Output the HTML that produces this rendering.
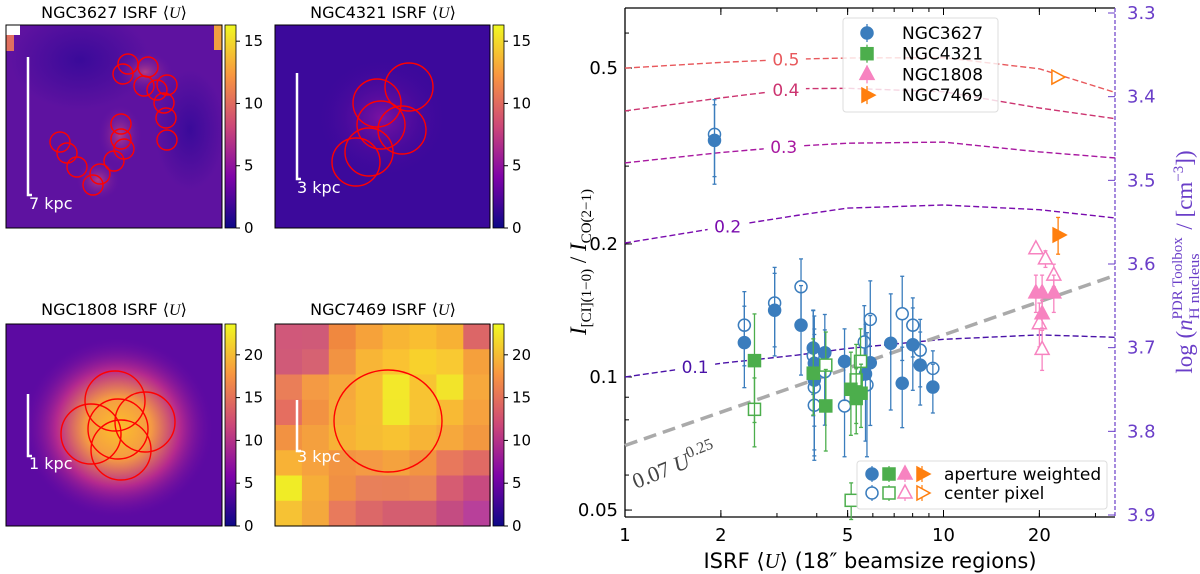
<!DOCTYPE html>
<html><head><meta charset="utf-8"><style>
html,body{margin:0;padding:0;background:#fff;}
svg{display:block;font-family:"DejaVu Sans","Liberation Sans",sans-serif;}
</style></head><body>
<svg id="fig" width="1200" height="574" viewBox="0 0 1200 574" xmlns="http://www.w3.org/2000/svg">
<defs>
<linearGradient id="plasma" x1="0" y1="1" x2="0" y2="0">
<stop offset="0" stop-color="#0d0887"/><stop offset="0.25" stop-color="#7e03a8"/><stop offset="0.5" stop-color="#cc4778"/><stop offset="0.75" stop-color="#f89540"/><stop offset="1" stop-color="#f0f921"/>
</linearGradient>
<radialGradient id="g1" cx="0.5" cy="0.5" r="0.5"><stop offset="0" stop-color="#b03c88"/><stop offset="1" stop-color="#6a14a2" stop-opacity="0"/></radialGradient>
<radialGradient id="gd" cx="0.5" cy="0.5" r="0.5"><stop offset="0" stop-color="#3a0a9a"/><stop offset="1" stop-color="#3a0a9a" stop-opacity="0"/></radialGradient>
<radialGradient id="g2" cx="0.5" cy="0.5" r="0.5"><stop offset="0" stop-color="#7c12a2"/><stop offset="1" stop-color="#40089c" stop-opacity="0"/></radialGradient>
<radialGradient id="g3" cx="0.5" cy="0.5" r="0.5"><stop offset="0" stop-color="#fcc02a"/><stop offset="0.35" stop-color="#f49a44"/><stop offset="0.65" stop-color="#b52a8e"/><stop offset="1" stop-color="#6a0aa5" stop-opacity="0"/></radialGradient>
<clipPath id="c1"><rect x="6" y="25" width="216" height="203"/></clipPath>
<clipPath id="c2"><rect x="275" y="25" width="215" height="203"/></clipPath>
<clipPath id="c3"><rect x="6" y="324" width="216" height="202"/></clipPath>
</defs>

<g>
<text x="114" y="18" font-size="16" text-anchor="middle">NGC3627 ISRF ⟨<tspan font-style="italic" font-family="Liberation Serif,serif">U</tspan>⟩</text>
<rect x="6" y="25" width="216" height="203" fill="#5e12a0"/>
<g clip-path="url(#c1)">
<ellipse cx="80" cy="60" rx="70" ry="50" fill="url(#gd)"/>
<ellipse cx="190" cy="130" rx="35" ry="60" fill="url(#gd)"/>
<ellipse cx="120" cy="135" rx="22" ry="30" fill="url(#g1)"/>
<ellipse cx="98" cy="180" rx="22" ry="20" fill="url(#g1)"/>
<ellipse cx="145" cy="72" rx="28" ry="20" fill="url(#g1)"/>
<rect x="214" y="25" width="8" height="25" fill="#f0a040"/>
<rect x="6" y="33" width="8" height="18" fill="#e07060"/>
<rect x="6" y="25" width="14" height="10" fill="#fff"/>
</g>
<rect x="6" y="25" width="216" height="203" fill="none" stroke="#000" stroke-width="1"/>
<g fill="none" stroke="#f00" stroke-width="1.4">
<circle cx="128" cy="64" r="10"/><circle cx="148" cy="67" r="10"/><circle cx="123" cy="74" r="10"/><circle cx="144" cy="86" r="10"/><circle cx="157" cy="90" r="10"/><circle cx="167" cy="85" r="10"/><circle cx="164" cy="103" r="10"/><circle cx="166" cy="118" r="10"/><circle cx="167" cy="140" r="10"/><circle cx="121" cy="124" r="10"/><circle cx="121" cy="139" r="10"/><circle cx="124" cy="149" r="10"/><circle cx="60" cy="142" r="10"/><circle cx="67" cy="153" r="10"/><circle cx="77" cy="167" r="10"/><circle cx="114" cy="161" r="10"/><circle cx="100" cy="174" r="10"/><circle cx="93" cy="185" r="10"/>
</g>
<path d="M28 57 V195 H32" stroke="#fff" stroke-width="2.5" fill="none"/>
<text x="29" y="209" fill="#fff" font-size="16">7 kpc</text>
</g>

<g>
<text x="383" y="18" font-size="16" text-anchor="middle">NGC4321 ISRF ⟨<tspan font-style="italic" font-family="Liberation Serif,serif">U</tspan>⟩</text>
<rect x="275" y="25" width="215" height="203" fill="#3c099b"/>
<g clip-path="url(#c2)"><ellipse cx="382" cy="118" rx="65" ry="60" fill="url(#g2)"/></g>
<rect x="275" y="25" width="215" height="203" fill="none" stroke="#000"/>
<g fill="none" stroke="#f00" stroke-width="1.4">
<circle cx="409" cy="87" r="24"/><circle cx="377" cy="103" r="24"/><circle cx="381" cy="125" r="24"/><circle cx="402" cy="130" r="24"/><circle cx="369" cy="152" r="24"/><circle cx="356" cy="162" r="24"/>
</g>
<path d="M297 73 V179 H301" stroke="#fff" stroke-width="2.5" fill="none"/>
<text x="297" y="193" fill="#fff" font-size="16">3 kpc</text>
</g>

<g>
<text x="114" y="315" font-size="16" text-anchor="middle">NGC1808 ISRF ⟨<tspan font-style="italic" font-family="Liberation Serif,serif">U</tspan>⟩</text>
<rect x="6" y="324" width="216" height="202" fill="#5c0aa2"/>
<g clip-path="url(#c3)"><ellipse cx="118" cy="428" rx="95" ry="90" fill="url(#g3)"/></g>
<rect x="6" y="324" width="216" height="202" fill="none" stroke="#000"/>
<g fill="none" stroke="#f00" stroke-width="1.4">
<circle cx="115" cy="401" r="30"/><circle cx="145" cy="422" r="30"/><circle cx="91" cy="434" r="30"/><circle cx="118" cy="429" r="30"/><circle cx="121" cy="450" r="30"/>
</g>
<path d="M28 394 V456 H32" stroke="#fff" stroke-width="2.5" fill="none"/>
<text x="29" y="469" fill="#fff" font-size="16">1 kpc</text>
</g>

<g>
<text x="383" y="315" font-size="16" text-anchor="middle">NGC7469 ISRF ⟨<tspan font-style="italic" font-family="Liberation Serif,serif">U</tspan>⟩</text>
<g id="p4cells"></g>
<rect x="275" y="324" width="215" height="202" fill="none" stroke="#000"/>
<ellipse cx="388" cy="421" rx="54" ry="51" fill="none" stroke="#f00" stroke-width="1.4"/>
<path d="M297 400 V451 H301" stroke="#fff" stroke-width="2.5" fill="none"/>
<text x="297" y="462" fill="#fff" font-size="16">3 kpc</text>
</g>

<g><rect x="225" y="25" width="11" height="203" fill="url(#plasma)" stroke="#000" stroke-width="0.8"/></g>
<g><rect x="493" y="25" width="11" height="203" fill="url(#plasma)" stroke="#000" stroke-width="0.8"/></g>
<g><rect x="225" y="324" width="11" height="202" fill="url(#plasma)" stroke="#000" stroke-width="0.8"/></g>
<g><rect x="493" y="324" width="11" height="202" fill="url(#plasma)" stroke="#000" stroke-width="0.8"/></g>
<g id="cbticks" font-size="15"></g>

<g id="chart"></g>
</svg>
<script>
// ---- chart data ----
const blueFilledU = [1.91,2.37,2.95,3.57,3.90,4.24,3.93,3.93,4.89,5.69,5.89,6.83,8.01,8.45,7.42,9.26];
const blueFilledV = [0.343,0.1196,0.1416,0.131,0.1163,0.1135,0.1074,0.0984,0.1085,0.1016,0.1077,0.1192,0.1183,0.1064,0.0968,0.0949];
const blueFilledE = [0.07,0.025,0.03,0.03,0.025,0.025,0.03,0.03,0.02,0.03,0.03,0.035,0.025,0.02,0.02,0.012];
const blueOpenU = [1.91,2.37,2.95,3.57,3.90,3.93,3.93,4.24,4.89,5.64,5.75,5.89,7.42,8.01,8.45,9.26];
const blueOpenV = [0.354,0.131,0.147,0.160,0.1117,0.0948,0.0863,0.1028,0.086,0.120,0.096,0.135,0.139,0.131,0.115,0.1046];
const blueOpenE = [0.07,0.025,0.03,0.025,0.03,0.03,0.02,0.025,0.02,0.025,0.03,0.03,0.03,0.02,0.02,0.01];
const greenFilledU = [2.55,3.90,4.27,5.12,5.32,5.51];
const greenFilledV = [0.1089,0.102,0.086,0.0938,0.0894,0.0919];
const greenFilledE = [0.03,0.02,0.018,0.02,0.015,0.015];
const greenOpenU = [2.55,4.27,5.49,5.32,5.13];
const greenOpenV = [0.0845,0.1064,0.1085,0.0985,0.0526];
const greenOpenE = [0.015,0.02,0.02,0.02,0.005];
const pinkFilledU = [19.5,20.4,22.2,20.4];
const pinkFilledV = [0.155,0.155,0.155,0.139];
const pinkFilledE = [0.015,0.015,0.015,0.01];
const pinkOpenU = [19.5,20.9,22.2,20.0,20.4];
const pinkOpenV = [0.195,0.185,0.170,0.132,0.1155];
const pinkOpenE = [0.005,0.008,0.01,0.015,0.012];
const orangeFilledU = [22.9];
const orangeFilledV = [0.2096];
const orangeFilledE = [0.02];
const orangeOpenU = [22.7];
const orangeOpenV = [0.477];
const orangeOpenE = [0.003];
const contourU = [1,2,3.45,5,10,20,34.7];
const contour05 = [0.500,0.515,0.524,0.527,0.528,0.498,0.440];
const contour04 = [0.400,0.428,0.449,0.450,0.442,0.406,0.384];
const contour03 = [0.305,0.322,0.333,0.338,0.340,0.323,0.313];
const contour02 = [0.201,0.218,0.232,0.241,0.245,0.239,0.229];
const contour01 = [0.100,0.1074,0.112,0.116,0.1217,0.1245,0.123];
const contourLabels = ["0.5","0.4","0.3","0.2","0.1"];
const xTicks = [1,2,5,10,20];
const yTicks = [0.05,0.1,0.2,0.5];
const rightTicks = [3.3,3.4,3.5,3.6,3.7,3.8,3.9];
const fitCoef = 0.07, fitExp = 0.25;

const L=625,R=1115,T=8,B=517;
const xS=u=>L+318.5*Math.log10(u);
const yS=v=>377-442*Math.log10(v/0.1);
const yR=d=>13+(d-3.3)*(515-13)/0.6;
const NS='http://www.w3.org/2000/svg';
const chart=document.getElementById('chart');
function mk(tag,attrs,parent){const e=document.createElementNS(NS,tag);for(const k in attrs)e.setAttribute(k,attrs[k]);(parent||chart).appendChild(e);return e;}

const cb=document.getElementById('cbticks');
[[225,25,228,16.3],[493,25,228,16.3],[225,324,526,23.6],[493,324,526,23.6]].forEach(([x,t,b,mx])=>{
  for(let v=0;v<=mx;v+=5){
    const y=b-(b-t)*v/mx;
    mk('line',{x1:x+11,x2:x+15,y1:y,y2:y,stroke:'#000'},cb);
    const tx=mk('text',{x:x+19,y:y+5},cb);
    
    
    tx.textContent=v;
  }
});
const p4=document.getElementById('p4cells');
const cellCols=[
 ['#d0587a','#cf5a78','#f0883f','#f6a23a','#f8b534','#f9be31','#f7b134','#dc6667'],
 ['#d05a78','#d66272','#f29342','#f8b536','#fac232','#f8d12c','#f9c932','#f5a03c'],
 ['#ea7e58','#f49a44','#f6a83c','#f8bc34','#f3e82a','#f8c432','#f2e42a','#f6a83c'],
 ['#e56e60','#f29242','#f7ac3a','#f7bc34','#f0e82a','#f7c434','#f8ba34','#f6a23e'],
 ['#f29242','#f4a03e','#f7b236','#f6bc34','#f8c232','#f7b436','#f6a83c','#f39840'],
 ['#f8b236','#f6a23e','#f29442','#f49a44','#f4a23e','#f29442','#e8785c','#e06a64'],
 ['#f0ec26','#f6ae38','#f09044','#e8805a','#e88058','#ea8456','#d65c72','#c84a80'],
 ['#f6c234','#f4a83c','#e87a5c','#dc6868','#d45e70','#d45e70','#c44c82','#b8409a']];
for(let r=0;r<8;r++)for(let c=0;c<8;c++){
  mk('rect',{x:275+c*26.9,y:324+r*25.25,width:27.5,height:25.8,fill:cellCols[r][c]},p4);
}

mk('line',{x1:L,y1:T,x2:L,y2:B,stroke:'#000','stroke-width':1.3});
mk('line',{x1:L,y1:B,x2:R,y2:B,stroke:'#000','stroke-width':1.3});
mk('line',{x1:L,y1:T,x2:R,y2:T,stroke:'#000','stroke-width':1.3});
mk('line',{x1:R,y1:T,x2:R,y2:B,stroke:'#6a3ec8','stroke-width':1.2,'stroke-dasharray':'4,2'});

for(let d=0;d<2;d++)for(let m=1;m<10;m++){const u=m*Math.pow(10,d);if(u>34.7)continue;const x=xS(u);
  mk('line',{x1:x,x2:x,y1:B,y2:B-(m==1?7:4),stroke:'#000'});mk('line',{x1:x,x2:x,y1:T,y2:T+(m==1?7:4),stroke:'#000'});}
xTicks.forEach(u=>{const x=xS(u);mk('line',{x1:x,x2:x,y1:B,y2:B-7,stroke:'#000'});mk('line',{x1:x,x2:x,y1:T,y2:T+7,stroke:'#000'});
  const t=mk('text',{x:x,y:541,'font-size':18,'text-anchor':'middle'});
  
  
  t.textContent=u;});
[0.05,0.06,0.07,0.08,0.09,0.1,0.2,0.3,0.4,0.5,0.6].forEach(v=>{const y=yS(v);mk('line',{x1:L,x2:L+4,y1:y,y2:y,stroke:'#000'});});
yTicks.forEach(v=>{const y=yS(v);mk('line',{x1:L,x2:L+7,y1:y,y2:y,stroke:'#000'});
  const t=mk('text',{x:618,y:y+6,'font-size':18,'text-anchor':'end'});
  
  
  t.textContent=v;});
rightTicks.forEach(d=>{const y=yR(d);mk('line',{x1:R,x2:R-7,y1:y,y2:y,stroke:'#6a3ec8'});
  const t=mk('text',{x:1127,y:y+6,'font-size':18,fill:'#6a3ec8'});
  
  
  t.textContent=d.toFixed(1);});

const cSets=[contour05,contour04,contour03,contour02,contour01];
const cCols=['#e8585c','#cc3470','#a818a0','#7a0cae','#4a12a8'];
const labU=[3.2,3.2,3.15,2.1,1.66];
cSets.forEach((vals,i)=>{
  let d='';contourU.forEach((u,j)=>{d+=(j?'L':'M')+xS(u).toFixed(1)+' '+yS(vals[j]).toFixed(1);});
  const p=mk('path',{d:d,fill:'none',stroke:cCols[i],'stroke-width':1.4,'stroke-dasharray':'6,3'});
  
  
  const lu=labU[i];let k=0;while(k<contourU.length-2&&contourU[k+1]<lu)k++;
  const f=(Math.log10(lu)-Math.log10(contourU[k]))/(Math.log10(contourU[k+1])-Math.log10(contourU[k]));
  const lv=Math.pow(10,Math.log10(cSets[i][k])+f*(Math.log10(cSets[i][k+1])-Math.log10(cSets[i][k])));
  const lx=xS(lu),ly=yS(lv);
  mk('rect',{x:lx-20,y:ly-10,width:40,height:20,fill:'#fff'});
  const t=mk('text',{x:lx,y:ly+6,'font-size':17,'text-anchor':'middle',fill:cCols[i]});
  
  
  t.textContent=contourLabels[i];
});

const fitL=mk('line',{x1:xS(1),y1:yS(fitCoef),x2:xS(34.7),y2:yS(fitCoef*Math.pow(34.7,fitExp)),stroke:'#aaa','stroke-width':3.5,'stroke-dasharray':'13,7'});


const fitT=mk('text',{x:0,y:0,'font-size':22,fill:'#444','font-family':'Liberation Serif,serif',transform:'translate(636,489) rotate(-22)'});


fitT.innerHTML='0.07 <tspan font-style="italic">U</tspan><tspan dy="-9" font-size="16">0.25</tspan>';

function marker(shape,x,y,col,filled,g){
  const fa=filled?col:'#fff',sw=1.5;
  if(shape=='o')return mk('circle',{cx:x,cy:y,r:6,fill:fa,stroke:col,'stroke-width':sw},g);
  if(shape=='s')return mk('rect',{x:x-6,y:y-6,width:12,height:12,fill:fa,stroke:col,'stroke-width':sw},g);
  if(shape=='^')return mk('polygon',{points:`${x},${y-8} ${x+7},${y+5} ${x-7},${y+5}`,fill:fa,stroke:col,'stroke-width':sw},g);
  if(shape=='>')return mk('polygon',{points:`${x+8},${y} ${x-5},${y-7} ${x-5},${y+7}`,fill:fa,stroke:col,'stroke-width':sw},g);
}
function series(name,U,V,E,shape,col,filled){
  const g=mk('g',{});
  
  
  U.forEach((u,i)=>{const x=xS(u),y=yS(V[i]),y1=yS(V[i]+E[i]),y2=yS(Math.max(V[i]-E[i],0.001));
    mk('line',{x1:x,x2:x,y1:y1,y2:y2,stroke:col,'stroke-width':1.3},g);
    mk('line',{x1:x-2,x2:x+2,y1:y1,y2:y1,stroke:col,'stroke-width':1.3},g);
    mk('line',{x1:x-2,x2:x+2,y1:y2,y2:y2,stroke:col,'stroke-width':1.3},g);
    const m=marker(shape,x,y,col,filled,g);
    
    
  });
}
const BL='#3b7dbd',GR='#4cae4c',PK='#f783c0',OR='#ff7f0e';
series('ngc3627-center',blueOpenU,blueOpenV,blueOpenE,'o',BL,false);
series('ngc3627-aperture',blueFilledU,blueFilledV,blueFilledE,'o',BL,true);
series('ngc4321-center',greenOpenU,greenOpenV,greenOpenE,'s',GR,false);
series('ngc4321-aperture',greenFilledU,greenFilledV,greenFilledE,'s',GR,true);
series('ngc1808-center',pinkOpenU,pinkOpenV,pinkOpenE,'^',PK,false);
series('ngc1808-aperture',pinkFilledU,pinkFilledV,pinkFilledE,'^',PK,true);
series('ngc7469-center',orangeOpenU,orangeOpenV,orangeOpenE,'>',OR,false);
series('ngc7469-aperture',orangeFilledU,orangeFilledV,orangeFilledE,'>',OR,true);

const lg=mk('g',{});


mk('rect',{x:843,y:18,width:155,height:94,fill:'#fff','fill-opacity':0.8,stroke:'#ddd',rx:3},lg);
[['NGC3627','o',BL],['NGC4321','s',GR],['NGC1808','^',PK],['NGC7469','>',OR]].forEach((e,i)=>{
  const y=33+i*20.7;
  mk('line',{x1:867,x2:867,y1:y-9,y2:y+9,stroke:e[2],'stroke-width':1.3},lg);
  marker(e[1],867,y,e[2],true,lg);
  const t=mk('text',{x:902,y:y+6,'font-size':17},lg);
  
  
  t.textContent=e[0];
});
const lb=mk('g',{});


mk('rect',{x:857,y:461,width:250,height:48,fill:'#fff','fill-opacity':0.8,stroke:'#ddd',rx:3},lb);
[[474,true,'aperture weighted'],[493,false,'center pixel']].forEach(r=>{
  [['o',BL,872],['s',GR,889],['^',PK,905],['>',OR,922]].forEach(m=>{
    mk('line',{x1:m[2],x2:m[2],y1:r[0]-8,y2:r[0]+8,stroke:m[1],'stroke-width':1.2},lb);
    marker(m[0],m[2],r[0],m[1],r[1],lb);});
  const t=mk('text',{x:944,y:r[0]+6,'font-size':17},lb);
  
  
  t.textContent=r[2];
});

const xt=mk('text',{x:870,y:568,'font-size':21,'text-anchor':'middle'});


xt.innerHTML='ISRF ⟨<tspan font-style="italic" font-family="Liberation Serif,serif">U</tspan>⟩  (18″ beamsize regions)';
const yt=mk('text',{x:0,y:0,'font-size':23,'text-anchor':'middle','font-family':'Liberation Serif,serif',transform:'translate(586,262) rotate(-90)'});


yt.innerHTML='<tspan font-style="italic">I</tspan><tspan dy="5" font-size="15">[CI](1−0)</tspan><tspan dy="-5"> / </tspan><tspan font-style="italic">I</tspan><tspan dy="5" font-size="15">CO(2−1)</tspan>';
const rt=mk('text',{x:0,y:0,'font-size':23,'text-anchor':'middle',fill:'#6a3ec8','font-family':'Liberation Serif,serif',transform:'translate(1192,262) rotate(-90)'});


rt.innerHTML='log (<tspan font-style="italic">n</tspan><tspan dy="-10" font-size="15" textLength="82" lengthAdjust="spacingAndGlyphs">PDR Toolbox</tspan><tspan dx="-82" dy="17" font-size="15" textLength="66" lengthAdjust="spacingAndGlyphs">H nucleus</tspan><tspan dx="18" dy="-7"> / [cm</tspan><tspan dy="-9" font-size="15">−3</tspan><tspan dy="9">])</tspan>';
</script>
</body></html>
